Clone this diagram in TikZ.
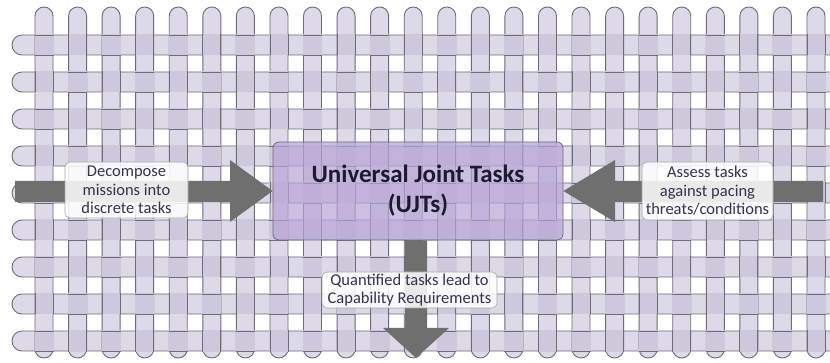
\documentclass[tikz,border=0pt]{standalone}
\usepackage{fontspec}
\setmainfont{Carlito}
\definecolor{stripfill}{HTML}{DDD9E8}
\definecolor{crossfill}{HTML}{CEC8DD}
\definecolor{stripedge}{HTML}{6E6C78}
\definecolor{boxpurple}{HTML}{B8A4D6}
\definecolor{arrowgray}{HTML}{6F6F6F}
\definecolor{labeltext}{HTML}{33334F}
\definecolor{titletext}{HTML}{1C1A2E}
\tikzset{
  strip/.style={fill=stripfill, draw=stripedge, line width=0.9pt},
  hstrip/.style={strip, rounded corners=10pt},
  vstrip/.style={strip, rounded corners=9pt},
  edge/.style={draw=stripedge, line width=0.9pt},
  ujtbox/.style={rectangle, rounded corners=6pt, draw=stripedge, line width=0.8pt,
    fill=boxpurple, fill opacity=0.7, text opacity=1, text=titletext,
    minimum width=290pt, minimum height=98pt, align=center,
    font=\bfseries\fontsize{25}{30}\selectfont},
  lbl/.style={rectangle, rounded corners=5pt, draw=gray!70, line width=0.6pt,
    fill=white, fill opacity=0.85, text opacity=1, text=labeltext,
    align=center, inner sep=0pt, font=\fontsize{16.5}{18.5}\selectfont},
  blockarrow/.style={fill=arrowgray}
}
\begin{document}
\begin{tikzpicture}[x=1pt,y=-1pt]
\useasboundingbox (0,0) rectangle (830,363);
\fill[white] (0,0) rectangle (830,363);
\begin{scope}
  \clip (0,0) rectangle (830,363);
  % horizontal strips
  \foreach \i in {0,...,8} {
    \pgfmathsetmacro\yy{45+37*\i}
    \draw[hstrip] (12,\yy-10) rectangle (880,\yy+10);
  }
  % vertical strips
  \foreach \j in {0,...,23} {
    \pgfmathsetmacro\xx{44+33.565*\j}
    \draw[vstrip] (\xx-9,7) rectangle (\xx+9,358);
  }
  % weave: at each crossing only the upper strip keeps its edges
  \foreach \i in {0,...,8} {
    \foreach \j in {0,...,23} {
      \pgfmathsetmacro\yy{45+37*\i}
      \pgfmathsetmacro\xx{44+33.565*\j}
      \fill[crossfill] (\xx-9.5,\yy-10.5) rectangle (\xx+9.5,\yy+10.5);
      \pgfmathparse{int(mod(\i+\j,2))}
      \ifnum\pgfmathresult=0
        \draw[edge] (\xx-9.5,\yy-10) -- (\xx+9.5,\yy-10) (\xx-9.5,\yy+10) -- (\xx+9.5,\yy+10);
      \else
        \draw[edge] (\xx-9,\yy-10.5) -- (\xx-9,\yy+10.5) (\xx+9,\yy-10.5) -- (\xx+9,\yy+10.5);
      \fi
    }
  }
\end{scope}

% central box
\node[ujtbox] (ujt) at (418,191) {Universal Joint Tasks\\(UJTs)};

% block arrows
\fill[blockarrow] (15,181) -- (230,181) -- (230,160) -- (ujt.west |- 0,191) -- (230,222) -- (230,202) -- (15,202) -- cycle;
\fill[blockarrow] (823,181) -- (615,181) -- (615,160) -- (ujt.east |- 0,191) -- (615,222) -- (615,202) -- (823,202) -- cycle;
\fill[blockarrow] (ujt.south -| 405,0) -- (405,328) -- (383,328) -- (416,358) -- (449,328) -- (427,328) -- (ujt.south -| 427,0) -- cycle;

% labels on the arrows
\node[lbl, minimum width=123pt, minimum height=56pt] (decomp) at (126.5,190) {Decompose\\missions into\\discrete tasks};
\node[lbl, minimum width=131pt, minimum height=58pt] (assess) at (707.5,191) {Assess tasks\\against pacing\\threats/conditions};
\node[lbl, minimum width=175pt, minimum height=36pt] (quant) at (409.5,290) {Quantified tasks lead to\\Capability Requirements};
\end{tikzpicture}
\end{document}
